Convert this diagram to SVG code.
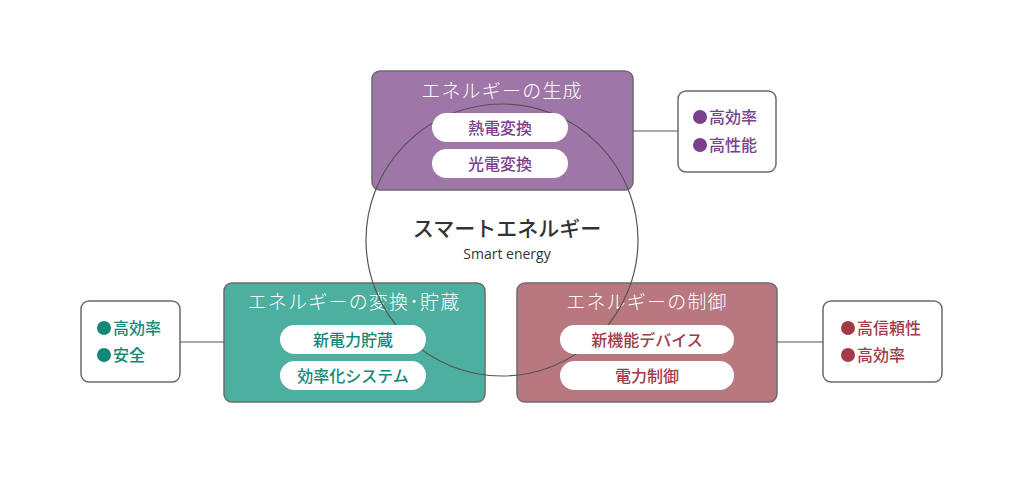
<svg xmlns="http://www.w3.org/2000/svg" width="1024" height="478" viewBox="0 0 1024 478">
<style>
.box{stroke:#6b6b6b;stroke-width:1.5}
.side{fill:#fff;stroke:#6b6b6b;stroke-width:1.5}
.pill{fill:#fff}
.title{font-family:"Liberation Serif","Noto Sans CJK JP",serif;font-size:19px;font-weight:300;letter-spacing:1.2px;fill:#fff;text-anchor:middle}
.ptxt{font-family:"Noto Sans CJK JP",sans-serif;font-size:16px;font-weight:500;text-anchor:middle}
.stxt{font-family:"Noto Sans CJK JP",sans-serif;font-size:16px;font-weight:500}
.conn{stroke:#555;stroke-width:1.2;fill:none}
.pu{fill:#7b3f8d}.te{fill:#148878}.ro{fill:#a23a47}
</style>
<rect width="1024" height="478" fill="#fff"/>
<g id="node-generation">
<rect class="box" x="372" y="71" width="261" height="119" rx="8" fill="#9e77a8"/>
<text class="title" x="502" y="98">エネルギーの生成</text>
</g>
<g id="node-storage">
<rect class="box" x="224" y="283" width="261" height="119" rx="8" fill="#4daf9f"/>
<text class="title" x="354" y="309">エネルギーの変換･貯蔵</text>
</g>
<g id="node-control">
<rect class="box" x="517" y="283" width="260" height="119" rx="8" fill="#b9787f"/>
<text class="title" x="647" y="309">エネルギーの制御</text>
</g>
<g id="connectors">
<circle class="conn" cx="502" cy="240" r="136"/>
<line class="conn" x1="633" y1="131" x2="678" y2="131"/>
<line class="conn" x1="180" y1="342" x2="224" y2="342"/>
<line class="conn" x1="777" y1="342" x2="823" y2="342"/>
</g>
<g id="pills-generation">
<rect class="pill" x="432" y="113" width="136" height="29" rx="14.5"/>
<text class="ptxt pu" x="500" y="133.5">熱電変換</text>
<rect class="pill" x="432" y="149" width="136" height="29" rx="14.5"/>
<text class="ptxt pu" x="500" y="169.5">光電変換</text>
</g>
<g id="pills-storage">
<rect class="pill" x="280" y="325" width="146" height="29" rx="14.5"/>
<text class="ptxt te" x="353" y="345.5">新電力貯蔵</text>
<rect class="pill" x="280" y="361" width="146" height="29" rx="14.5"/>
<text class="ptxt te" x="353" y="381.5">効率化システム</text>
</g>
<g id="pills-control">
<rect class="pill" x="560" y="325" width="174" height="29" rx="14.5"/>
<text class="ptxt ro" x="647" y="345.5">新機能デバイス</text>
<rect class="pill" x="560" y="361" width="174" height="29" rx="14.5"/>
<text class="ptxt ro" x="647" y="381.5">電力制御</text>
</g>
<g id="node-center">
<text x="507" y="236" font-family="'Noto Sans CJK JP',sans-serif" font-size="21" font-weight="500" fill="#333" text-anchor="middle">スマートエネルギー</text>
<text x="507" y="259" font-family="'Open Sans','Noto Sans',sans-serif" font-size="14" fill="#333" text-anchor="middle">Smart energy</text>
</g>
<g id="side-generation">
<rect class="side" x="678" y="91" width="98" height="81" rx="8"/>
<circle class="pu" cx="700" cy="117" r="7"/>
<text class="stxt pu" x="709" y="123">高効率</text>
<circle class="pu" cx="700" cy="145" r="7"/>
<text class="stxt pu" x="709" y="151">高性能</text>
</g>
<g id="side-storage">
<rect class="side" x="81" y="301" width="99" height="81" rx="8"/>
<circle class="te" cx="104" cy="328" r="7"/>
<text class="stxt te" x="113" y="334">高効率</text>
<circle class="te" cx="104" cy="355" r="7"/>
<text class="stxt te" x="113" y="361">安全</text>
</g>
<g id="side-control">
<rect class="side" x="823" y="301" width="119" height="81" rx="8"/>
<circle class="ro" cx="848" cy="328" r="7"/>
<text class="stxt ro" x="857" y="334">高信頼性</text>
<circle class="ro" cx="848" cy="355" r="7"/>
<text class="stxt ro" x="857" y="361">高効率</text>
</g>
</svg>
